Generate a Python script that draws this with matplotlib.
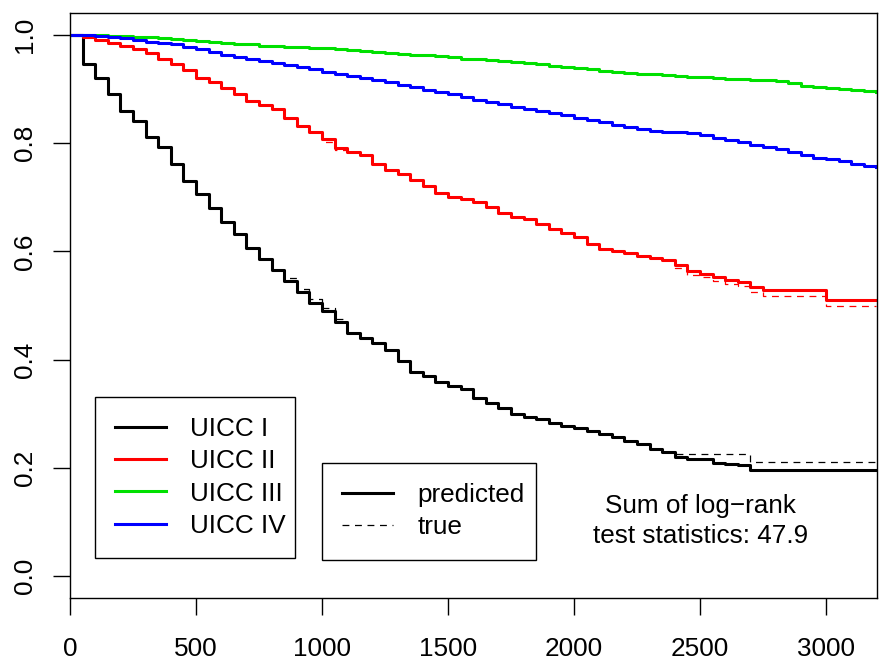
import matplotlib
matplotlib.use("Agg")
import matplotlib.pyplot as plt
from matplotlib.lines import Line2D

plt.rcParams['font.family'] = ['Liberation Sans', 'DejaVu Sans']

# time grid the curves were read at (days)
days = list(range(0, 3250, 50))

# UICC I
uicc1_pred = [1.0, 0.945, 0.92, 0.89, 0.86, 0.84, 0.812, 0.792, 0.762, 0.73,
              0.706, 0.68, 0.655, 0.632, 0.607, 0.585, 0.565, 0.545, 0.525, 0.505,
              0.49, 0.47, 0.45, 0.44, 0.43, 0.417, 0.398, 0.377, 0.37, 0.358,
              0.352, 0.345, 0.33, 0.32, 0.31, 0.30, 0.295, 0.29, 0.283, 0.278,
              0.274, 0.268, 0.262, 0.257, 0.25, 0.245, 0.236, 0.23, 0.22, 0.217,
              0.217, 0.21, 0.208, 0.206, 0.196, 0.196, 0.196, 0.196, 0.196, 0.196,
              0.196, 0.196, 0.196, 0.196, 0.196]
uicc1_true = [1.0, 0.945, 0.92, 0.89, 0.86, 0.84, 0.812, 0.792, 0.762, 0.73,
              0.706, 0.68, 0.655, 0.632, 0.607, 0.585, 0.565, 0.55, 0.53, 0.512,
              0.495, 0.475, 0.45, 0.44, 0.43, 0.417, 0.398, 0.377, 0.37, 0.358,
              0.352, 0.345, 0.33, 0.32, 0.31, 0.30, 0.295, 0.29, 0.283, 0.278,
              0.274, 0.268, 0.262, 0.257, 0.25, 0.245, 0.236, 0.23, 0.226, 0.226,
              0.226, 0.226, 0.226, 0.226, 0.211, 0.211, 0.211, 0.211, 0.211, 0.211,
              0.211, 0.211, 0.211, 0.211, 0.211]

# UICC II
uicc2_pred = [1.0, 0.995, 0.99, 0.985, 0.98, 0.973, 0.967, 0.955, 0.945, 0.935,
              0.92, 0.912, 0.902, 0.89, 0.878, 0.87, 0.862, 0.846, 0.832, 0.82,
              0.808, 0.79, 0.784, 0.778, 0.762, 0.75, 0.742, 0.732, 0.72, 0.708,
              0.70, 0.696, 0.692, 0.681, 0.67, 0.664, 0.66, 0.651, 0.641, 0.633,
              0.627, 0.614, 0.605, 0.60, 0.597, 0.592, 0.587, 0.584, 0.575, 0.563,
              0.559, 0.552, 0.548, 0.543, 0.534, 0.528, 0.528, 0.528, 0.528, 0.528,
              0.51, 0.51, 0.51, 0.51, 0.51]
uicc2_true = [1.0, 0.995, 0.99, 0.985, 0.98, 0.973, 0.967, 0.955, 0.945, 0.935,
              0.92, 0.912, 0.902, 0.89, 0.878, 0.87, 0.862, 0.846, 0.832, 0.82,
              0.802, 0.787, 0.784, 0.778, 0.762, 0.75, 0.742, 0.732, 0.72, 0.708,
              0.70, 0.696, 0.692, 0.681, 0.67, 0.664, 0.66, 0.651, 0.641, 0.633,
              0.627, 0.614, 0.605, 0.60, 0.597, 0.592, 0.587, 0.584, 0.57, 0.556,
              0.553, 0.546, 0.54, 0.536, 0.525, 0.517, 0.517, 0.517, 0.517, 0.517,
              0.50, 0.50, 0.50, 0.50, 0.50]

# UICC III
uicc3_pred = [1.0, 1.0, 0.999, 0.998, 0.997, 0.996, 0.995, 0.993, 0.992, 0.99,
              0.988, 0.987, 0.985, 0.983, 0.982, 0.98, 0.979, 0.978, 0.977, 0.976,
              0.975, 0.973, 0.972, 0.97, 0.968, 0.966, 0.965, 0.963, 0.962, 0.96,
              0.958, 0.956, 0.955, 0.953, 0.952, 0.95, 0.948, 0.946, 0.943, 0.94,
              0.938, 0.936, 0.933, 0.931, 0.93, 0.928, 0.927, 0.925, 0.924, 0.922,
              0.921, 0.92, 0.919, 0.918, 0.917, 0.916, 0.914, 0.91, 0.905, 0.904,
              0.902, 0.90, 0.897, 0.896, 0.895]
uicc3_true = uicc3_pred

# UICC IV
uicc4_pred = [1.0, 0.999, 0.997, 0.995, 0.993, 0.99, 0.987, 0.985, 0.982, 0.977,
              0.973, 0.968, 0.963, 0.959, 0.955, 0.951, 0.947, 0.944, 0.94, 0.936,
              0.932, 0.928, 0.924, 0.92, 0.916, 0.912, 0.908, 0.903, 0.898, 0.894,
              0.89, 0.885, 0.879, 0.876, 0.872, 0.867, 0.863, 0.859, 0.855, 0.851,
              0.847, 0.843, 0.838, 0.833, 0.829, 0.826, 0.823, 0.821, 0.82, 0.818,
              0.815, 0.81, 0.806, 0.802, 0.797, 0.793, 0.789, 0.783, 0.777, 0.773,
              0.77, 0.766, 0.762, 0.758, 0.756]
uicc4_true = uicc4_pred

stages = ['UICC I', 'UICC II', 'UICC III', 'UICC IV']
colors = ['black', '#FF0000', '#00E000', '#0000FF']
curves = [(uicc1_pred, uicc1_true), (uicc2_pred, uicc2_true),
          (uicc3_pred, uicc3_true), (uicc4_pred, uicc4_true)]

fs = 18.8
fig = plt.figure(figsize=(8.8, 6.66), dpi=100)
ax = fig.add_axes([70 / 880, 68 / 666, 807 / 880, 585 / 666])

for (pred, true), col in zip(curves, colors):
    ax.step(days, pred, where='post', color=col, lw=2.2)
    ax.step(days, true, where='post', color=col, lw=0.9, dashes=(5.5, 4.5))

ax.set_xlim(0, 3202)
ax.set_ylim(-0.04, 1.04)
ax.set_xticks([0, 500, 1000, 1500, 2000, 2500, 3000])
ax.set_xticklabels(['0', '500', '1000', '1500', '2000', '2500', '3000'], fontsize=fs)
ax.set_yticks([0, 0.2, 0.4, 0.6, 0.8, 1.0])
ax.set_yticklabels(['0.0', '0.2', '0.4', '0.6', '0.8', '1.0'], fontsize=fs,
                   rotation=90, va='center')
ax.tick_params(axis='both', length=12.5, width=1.0, color='black')
ax.tick_params(axis='x', pad=15.5)
ax.tick_params(axis='y', pad=11)
for sp in ax.spines.values():
    sp.set_linewidth(1.0)

legend_style = dict(loc='upper left', mode='expand', bbox_transform=fig.transFigure,
                    borderaxespad=0, fontsize=fs, handlelength=1.94, handletextpad=0.93,
                    borderpad=0.78, labelspacing=0.31, fancybox=False, framealpha=1,
                    edgecolor='black')

# stage legend
stage_handles = [Line2D([], [], color=c, lw=2.2) for c in colors]
leg1 = ax.legend(stage_handles, stages,
                 bbox_to_anchor=(95 / 880, 109 / 666, 200 / 880, 160 / 666),
                 **legend_style)
leg1.get_frame().set_linewidth(1.0)
ax.add_artist(leg1)

# predicted / true legend
type_handles = [Line2D([], [], color='black', lw=2.2),
                Line2D([], [], color='black', lw=0.9, dashes=(5.5, 4.5))]
leg2 = ax.legend(type_handles, ['predicted', 'true'],
                 bbox_to_anchor=(322 / 880, 108 / 666, 214 / 880, 95 / 666),
                 **legend_style)
leg2.get_frame().set_linewidth(1.0)

ax.text(2500, 0.1025, 'Sum of log\u2212rank\ntest statistics: 47.9', ha='center',
        va='center', fontsize=fs, linespacing=1.3)

fig.savefig('out.png', dpi=100)
